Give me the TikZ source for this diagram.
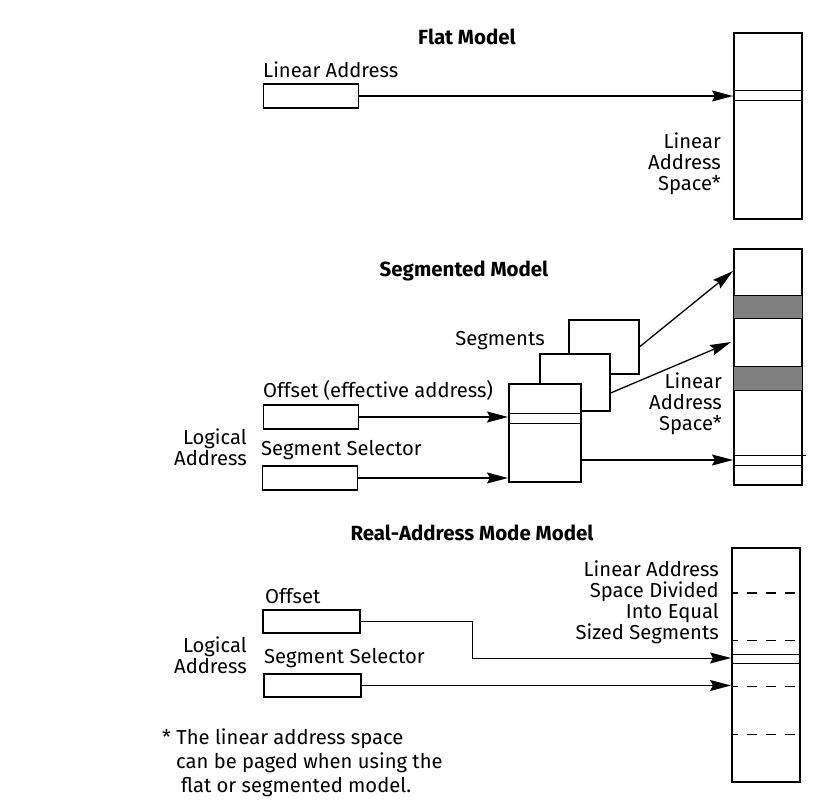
\documentclass[tikz,border=0pt]{standalone}
\usepackage{fontspec}
\setmainfont{Fira Sans}
\usetikzlibrary{arrows.meta}
\begin{document}
\begin{tikzpicture}[x=1pt, y=-1pt, line join=miter,
    lbl/.style={inner sep=0pt, font=\fontsize{20.2}{21}\selectfont},
    ttl/.style={inner sep=0pt, font=\fontsize{20.5}{21}\selectfont\bfseries},
    reg/.style={draw, line width=1.9pt, inner sep=0pt, minimum width=95pt, minimum height=24pt},
    col/.style={draw, line width=1.9pt, inner sep=0pt, minimum width=68pt, anchor=north west},
    seg/.style={draw, line width=1.6pt, fill=white, inner sep=0pt, anchor=north west},
    thin/.style={line width=1pt},
    ptr/.style={line width=1.3pt, -{Stealth[length=21pt, width=11pt, inset=3pt]}},
    gap/.style={line width=1pt, dash pattern=on 10pt off 9pt}]
  \useasboundingbox (0,0) rectangle (836,805);
  % flat model
  \node[ttl] (tFlat) at (467,37) {Flat Model};
  \node[lbl, anchor=west] (lLin) at (263,70) {Linear Address};
  \node[reg] (rLin) at (311,96) {};
  \node[col, minimum height=186pt] (cFlat) at (733,32) {};
  \draw[thin] (cFlat.west |- 0,91) -- (cFlat.east |- 0,91);
  \draw[thin] (cFlat.west |- 0,101) -- (cFlat.east |- 0,101);
  \draw[ptr] (rLin.east) -- (cFlat.west |- rLin.east);
  \node[lbl, anchor=east, align=right] (lSpcA) at (721,164) {Linear\\Address\\Space*};
  % segmented model
  \node[ttl] (tSeg) at (464,271) {Segmented Model};
  \node[col, minimum height=236pt] (cSeg) at (733,248) {};
  \draw[thin, fill=black!50] (cSeg.west |- 0,296) rectangle (cSeg.east |- 0,319);
  \draw[thin, fill=black!50] (cSeg.west |- 0,366) rectangle (cSeg.east |- 0,390);
  \draw[thin] (cSeg.west |- 0,455) -- ([xshift=3pt]cSeg.east |- 0,455);
  \draw[thin] (cSeg.west |- 0,465) -- (cSeg.east |- 0,465);
  \node[seg, minimum width=70pt, minimum height=54pt] (sBack) at (568,319) {};
  \node[seg, minimum width=70pt, minimum height=57pt] (sMid) at (539,353) {};
  \node[seg, minimum width=72pt, minimum height=98pt] (sFront) at (508,383) {};
  \draw[thin] (sFront.west |- 0,413) -- (sFront.east |- 0,413);
  \draw[thin] (sFront.west |- 0,423) -- (sFront.east |- 0,423);
  \coordinate (pTop) at (733,271);
  \coordinate (pMid) at (731,342);
  \draw[ptr] (sBack.east) -- (pTop);
  \draw[ptr] (sMid.east |- 0,393) -- (pMid);
  \draw[ptr] (sFront.east |- 0,460) -- (cSeg.west |- 0,460);
  \node[lbl, anchor=east] (lSegs) at (545,341) {Segments};
  \node[lbl, anchor=east, align=right] (lSpcB) at (722,404) {Linear\\Address\\Space*};
  \node[lbl, anchor=west] (lOff) at (263,390) {Offset (effective address)};
  \node[reg] (rOff) at (311,417) {};
  \node[lbl, anchor=west] (lSel) at (261,450) {Segment Selector};
  \node[reg] (rSel) at (310,478) {};
  \node[lbl, anchor=east, align=right] (lLog) at (247,447) {Logical\\Address};
  \draw[ptr] (rOff.east) -- (sFront.west |- rOff.east);
  \draw[ptr] (rSel.east) -- (sFront.west |- rSel.east);
  % real-address mode model
  \node[ttl] (tReal) at (472,533) {Real-Address Mode Model};
  \node[col, minimum height=234pt] (cReal) at (731,547) {};
  \draw[gap, line width=1.5pt, dash phase=3pt] (cReal.west |- 0,593) -- (cReal.east |- 0,593);
  \foreach \yy in {640,686,734}
    \draw[gap, dash phase=3pt] (cReal.west |- 0,\yy) -- (cReal.east |- 0,\yy);
  \draw[thin] (cReal.west |- 0,654) -- (cReal.east |- 0,654);
  \draw[thin] (cReal.west |- 0,663) -- (cReal.east |- 0,663);
  \node[lbl, anchor=east, align=right] (lDiv) at (719,602) {Linear Address\\Space Divided\\Into Equal\\Sized Segments};
  \node[lbl, anchor=west] (lOff2) at (265,596) {Offset};
  \node[reg, minimum width=97pt, minimum height=23pt] (rOff2) at (311.5,621.5) {};
  \node[lbl, anchor=west] (lSel2) at (264,658) {Segment Selector};
  \node[reg, minimum width=97pt, minimum height=23pt] (rSel2) at (312.5,685.5) {};
  \node[lbl, anchor=east, align=right] (lLog2) at (247,655) {Logical\\Address};
  \coordinate (pBend) at (472,658);
  \draw[ptr, line width=1pt] (rOff2.east) -| (pBend) -- (cReal.west |- pBend);
  \draw[ptr, line width=1pt] (rSel2.east) -- (cReal.west |- rSel2.east);
  % footnote
  \node[lbl, anchor=west] (fn1) at (162,739) {* The linear address space};
  \node[lbl, anchor=west] (fn2) at (176,763) {can be paged when using the};
  \node[lbl, anchor=west] (fn3) at (181,787) {flat or segmented model.};
\end{tikzpicture}
\end{document}
